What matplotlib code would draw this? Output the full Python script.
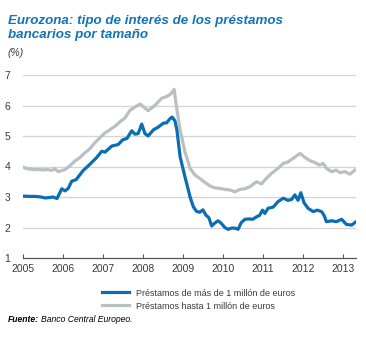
import matplotlib
matplotlib.use("Agg")
import matplotlib.pyplot as plt
import numpy as np

# Tipos de interés (%), lectura aproximada del gráfico
anio_grandes = [2005.00, 2005.15, 2005.30, 2005.45, 2005.55, 2005.65, 2005.75, 2005.85,
                2005.97, 2006.05, 2006.13, 2006.22, 2006.33, 2006.50, 2006.67, 2006.84,
                2006.97, 2007.05, 2007.22, 2007.38, 2007.50, 2007.60, 2007.72, 2007.80,
                2007.88, 2007.97, 2008.05, 2008.13, 2008.26, 2008.38, 2008.51, 2008.59,
                2008.68, 2008.73, 2008.80, 2008.85, 2008.93, 2009.05, 2009.18, 2009.26,
                2009.34, 2009.42, 2009.50, 2009.58, 2009.65, 2009.72, 2009.80, 2009.88,
                2009.95, 2010.05, 2010.13, 2010.22, 2010.30, 2010.38, 2010.46, 2010.55,
                2010.65, 2010.75, 2010.84, 2010.92, 2010.99, 2011.05, 2011.13, 2011.26,
                2011.38, 2011.51, 2011.63, 2011.72, 2011.80, 2011.88, 2011.95, 2012.03,
                2012.13, 2012.26, 2012.36, 2012.47, 2012.53, 2012.59, 2012.72, 2012.84,
                2012.97, 2013.09, 2013.22, 2013.33]
tipo_grandes = [3.03, 3.02, 3.02, 3.00, 2.97, 2.98, 3.00, 2.95,
                3.27, 3.20, 3.28, 3.52, 3.57, 3.86, 4.07, 4.29,
                4.50, 4.47, 4.67, 4.72, 4.88, 4.92, 5.17, 5.06,
                5.08, 5.39, 5.08, 5.00, 5.20, 5.29, 5.42, 5.43,
                5.57, 5.62, 5.50, 5.20, 4.32, 3.67, 3.00, 2.68,
                2.53, 2.50, 2.58, 2.40, 2.32, 2.05, 2.15, 2.22,
                2.15, 2.00, 1.94, 1.98, 1.98, 1.94, 2.16, 2.27,
                2.28, 2.27, 2.35, 2.40, 2.57, 2.46, 2.63, 2.67,
                2.85, 2.96, 2.89, 2.92, 3.07, 2.89, 3.14, 2.81,
                2.63, 2.52, 2.57, 2.52, 2.40, 2.19, 2.22, 2.19,
                2.27, 2.10, 2.08, 2.19]

anio_pequenos = [2005.00, 2005.10, 2005.25, 2005.35, 2005.50, 2005.62, 2005.72, 2005.80,
                 2005.88, 2006.05, 2006.17, 2006.30, 2006.42, 2006.55, 2006.67, 2006.80,
                 2006.92, 2007.05, 2007.17, 2007.30, 2007.43, 2007.55, 2007.68, 2007.80,
                 2007.93, 2008.00, 2008.13, 2008.30, 2008.47, 2008.59, 2008.70, 2008.78,
                 2008.84, 2008.93, 2009.05, 2009.18, 2009.30, 2009.43, 2009.55, 2009.68,
                 2009.80, 2009.93, 2010.05, 2010.18, 2010.30, 2010.43, 2010.55, 2010.68,
                 2010.84, 2010.97, 2011.05, 2011.22, 2011.38, 2011.51, 2011.63, 2011.76,
                 2011.93, 2012.05, 2012.18, 2012.30, 2012.41, 2012.51, 2012.59, 2012.72,
                 2012.83, 2012.93, 2013.05, 2013.18, 2013.30]
tipo_pequenos = [3.98, 3.93, 3.90, 3.90, 3.89, 3.90, 3.87, 3.93,
                 3.83, 3.90, 4.02, 4.18, 4.29, 4.45, 4.58, 4.78,
                 4.94, 5.10, 5.20, 5.32, 5.47, 5.59, 5.85, 5.95,
                 6.05, 5.97, 5.83, 6.00, 6.24, 6.29, 6.38, 6.53,
                 5.96, 5.20, 4.49, 3.94, 3.72, 3.60, 3.48, 3.36,
                 3.30, 3.28, 3.25, 3.23, 3.17, 3.25, 3.27, 3.34,
                 3.50, 3.43, 3.56, 3.78, 3.94, 4.10, 4.15, 4.27,
                 4.43, 4.30, 4.19, 4.13, 4.05, 4.10, 3.94, 3.83,
                 3.88, 3.80, 3.83, 3.75, 3.88]

anios = [2005, 2006, 2007, 2008, 2009, 2010, 2011, 2012, 2013]
niveles = [1, 2, 3, 4, 5, 6, 7]

azul = "#0b6db3"
gris = "#b9c0c3"
texto = "#3a3a3a"
plt.rcParams["font.family"] = ["Liberation Sans", "DejaVu Sans"]

fig = plt.figure(figsize=(3.66, 3.38), dpi=100)
ax = fig.add_axes([23 / 366, 1 - 258 / 338, 333 / 366, 183 / 338])

ax.plot(anio_pequenos, tipo_pequenos, color=gris, linewidth=2.3,
        solid_joinstyle="round", label="Préstamos hasta 1 millón de euros")
ax.plot(anio_grandes, tipo_grandes, color=azul, linewidth=2.3,
        solid_joinstyle="round", label="Préstamos de más de 1 millón de euros")

ax.set_xlim(2005, 2013.33)
ax.set_ylim(1, 7)
ax.set_xticks(anios)
ax.set_xticklabels([str(a) for a in anios])
ax.set_yticks(niveles)
ax.tick_params(axis="x", direction="in", length=3, width=0.8, color="#555555",
               labelsize=7.5, labelcolor=texto, pad=4)
ax.tick_params(axis="y", length=0, labelsize=7.5, labelcolor=texto, pad=9)
for y in niveles[1:]:
    ax.axhline(y, color="#d4d4d4", linewidth=0.9, zorder=0)
for lado in ["left", "right", "top"]:
    ax.spines[lado].set_visible(False)
ax.spines["bottom"].set_color("#555555")
ax.spines["bottom"].set_linewidth(0.9)

fig.text(8 / 366, 1 - 15 / 338, "Eurozona: tipo de interés de los préstamos\nbancarios por tamaño",
         color="#1273b9", fontsize=9.6, fontweight="bold", fontstyle="italic",
         va="top", ha="left", linespacing=1.2)
fig.text(8 / 366, 1 - 48 / 338, "(%)", color=texto, fontsize=7.5, fontstyle="italic",
         va="top", ha="left")

h, l = ax.get_legend_handles_labels()
fig.legend(h[::-1], l[::-1], loc="upper left", bbox_to_anchor=(97 / 366, 1 - 284 / 338),
           frameon=False, fontsize=6.5, handlelength=3.0, handletextpad=0.8,
           labelspacing=0.45, borderpad=0, labelcolor=texto)

r = fig.canvas.get_renderer()
t1 = fig.text(8 / 366, 1 - 320 / 338, "Fuente:", color="black", fontsize=6.2,
              fontweight="bold", fontstyle="italic", va="center", ha="left")
bb = t1.get_window_extent(renderer=r)
fig.text((bb.x1 + 2) / 366, 1 - 320 / 338, "Banco Central Europeo.", color="black",
         fontsize=6.2, fontstyle="italic", va="center", ha="left")

fig.savefig("out.png", dpi=100)
